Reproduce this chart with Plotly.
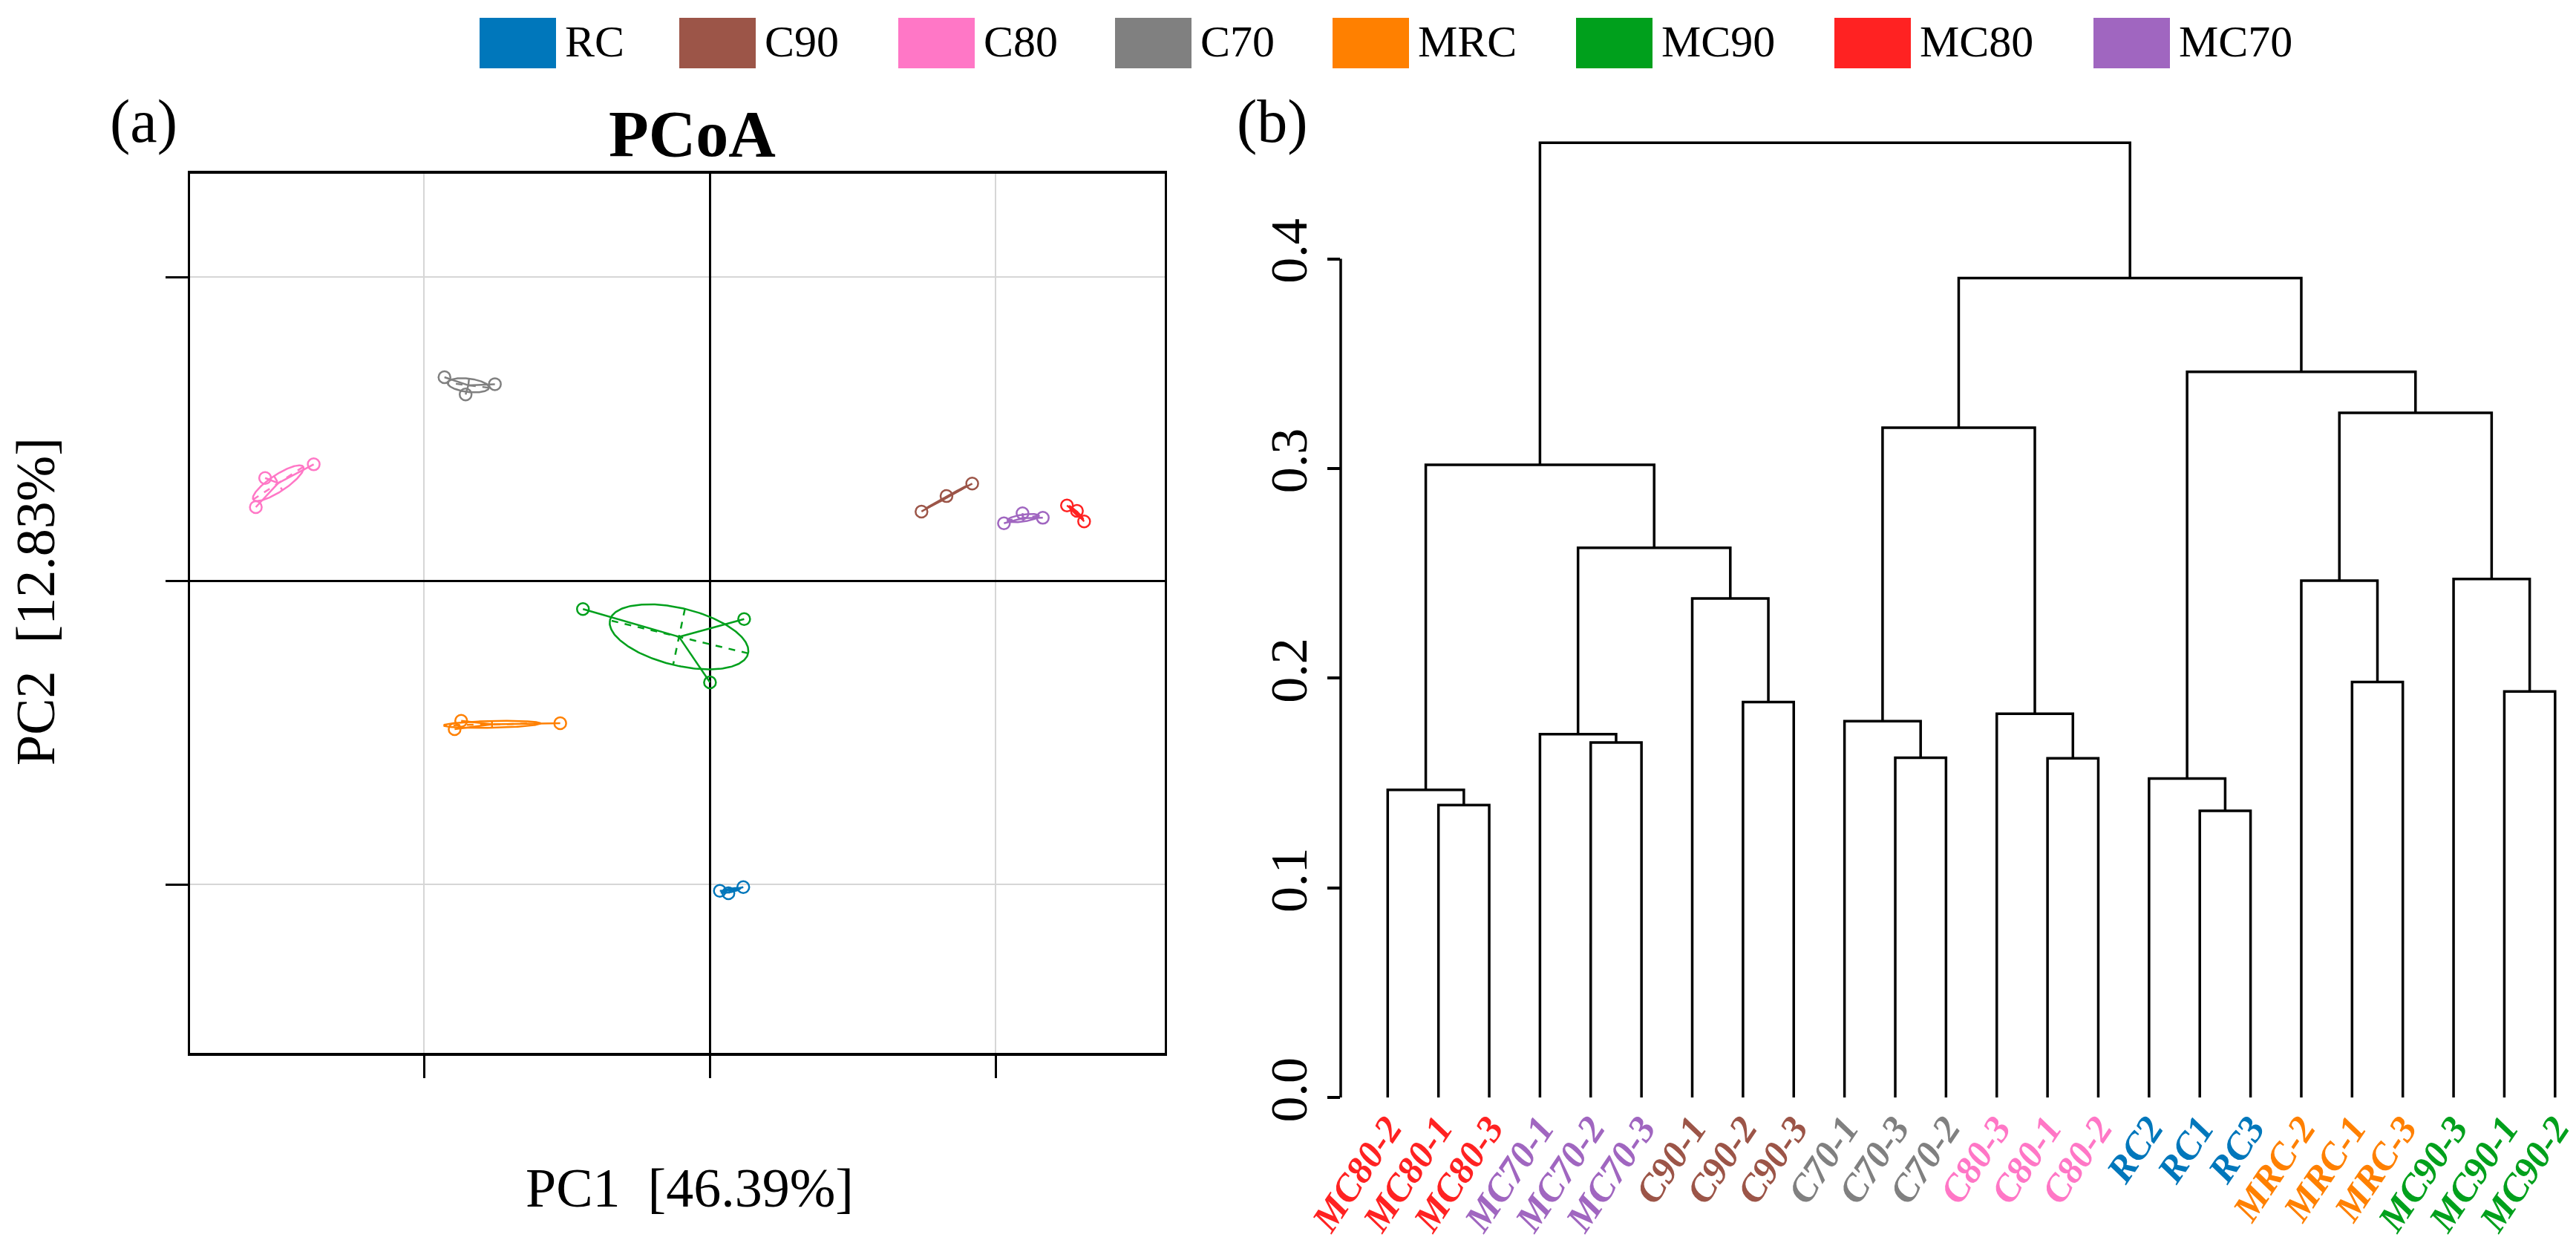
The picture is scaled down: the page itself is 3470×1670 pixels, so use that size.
import numpy as np
import plotly.graph_objects as go

W, H = 3470, 1670
FONT = "Liberation Serif"

# ---------------- data ----------------
groups = ["RC", "C90", "C80", "C70", "MRC", "MC90", "MC80", "MC70"]
group_colors = ["#0077BB", "#9C5548", "#FF77C6", "#808080",
                "#FF8000", "#00A01C", "#FF2222", "#A066C0"]

# PCoA scores (three replicates per group)
RC_pc1 = [0.0071, 0.0131, 0.0235]
RC_pc2 = [-0.2043, -0.2059, -0.2018]
C90_pc1 = [0.1482, 0.1657, 0.1837]
C90_pc2 = [0.0455, 0.0557, 0.0639]
C80_pc1 = [-0.3176, -0.3111, -0.2771]
C80_pc2 = [0.0484, 0.0676, 0.0766]
C70_pc1 = [-0.1856, -0.1708, -0.1503]
C70_pc2 = [0.1340, 0.1226, 0.1294]
MRC_pc1 = [-0.1739, -0.1785, -0.1046]
MRC_pc2 = [-0.0923, -0.0978, -0.0939]
MC90_pc1 = [-0.0887, 0.0241, 0.0002]
MC90_pc2 = [-0.0187, -0.0253, -0.0670]
MC80_pc1 = [0.2500, 0.2570, 0.2620]
MC80_pc2 = [0.0495, 0.0460, 0.0390]
MC70_pc1 = [0.2059, 0.2189, 0.2331]
MC70_pc2 = [0.0378, 0.0444, 0.0414]

pc1_tick_values = [-0.2, 0.0, 0.2]
pc2_tick_values = [-0.2, 0.0, 0.2]

# dendrogram (leaf order as drawn)
leaf_labels = ["MC80-2", "MC80-1", "MC80-3", "MC70-1", "MC70-2", "MC70-3",
               "C90-1", "C90-2", "C90-3", "C70-1", "C70-3", "C70-2",
               "C80-3", "C80-1", "C80-2", "RC2", "RC1", "RC3",
               "MRC-2", "MRC-1", "MRC-3", "MC90-3", "MC90-1", "MC90-2"]
leaf_groups = ["MC80", "MC80", "MC80", "MC70", "MC70", "MC70",
               "C90", "C90", "C90", "C70", "C70", "C70",
               "C80", "C80", "C80", "RC", "RC", "RC",
               "MRC", "MRC", "MRC", "MC90", "MC90", "MC90"]
# hclust-style merges: negative = leaf position (1-based), positive = earlier merge
merge_left = [-17, -2, -1, -16, -11, -14, -5, -4, -10, -13, -8, -23, -20,
              -7, -19, -22, 8, 3, 9, 15, 4, 19, 18]
merge_right = [-18, -3, 2, 1, -12, -15, -6, 7, 5, 6, -9, -24, -21,
               11, 13, 12, 14, 17, 10, 16, 20, 21, 22]
merge_height = [0.1368, 0.1395, 0.1468, 0.1522, 0.1621, 0.1618, 0.1693,
                0.1733, 0.1795, 0.1831, 0.1886, 0.1937, 0.1982, 0.2380,
                0.2465, 0.2473, 0.2622, 0.3018, 0.3195, 0.3266, 0.3461,
                0.3908, 0.4554]
height_ticks = [0.0, 0.1, 0.2, 0.3, 0.4]

pcoa = {
    "RC": (RC_pc1, RC_pc2), "C90": (C90_pc1, C90_pc2), "C80": (C80_pc1, C80_pc2),
    "C70": (C70_pc1, C70_pc2), "MRC": (MRC_pc1, MRC_pc2), "MC90": (MC90_pc1, MC90_pc2),
    "MC80": (MC80_pc1, MC80_pc2), "MC70": (MC70_pc1, MC70_pc2),
}
color_of = dict(zip(groups, group_colors))


def px_x(p):
    return p / W


def px_y(p):
    return 1 - p / H


fig = go.Figure()

# ---------------- (a) PCoA ----------------
for g in groups:
    x = np.array(pcoa[g][0])
    y = np.array(pcoa[g][1])
    col = color_of[g]
    cx, cy = x.mean(), y.mean()
    # spider lines
    sx, sy = [], []
    for xi, yi in zip(x, y):
        sx += [cx, xi, None]
        sy += [cy, yi, None]
    fig.add_trace(go.Scatter(x=sx, y=sy, mode="lines", line=dict(color=col, width=2.5),
                             xaxis="x", yaxis="y", showlegend=False, hoverinfo="skip"))
    # covariance ellipse (1 sd)
    C = np.cov(np.vstack([x, y]), bias=True)
    vals, vecs = np.linalg.eigh(C)
    vals = np.clip(vals, 0, None)
    a, b = np.sqrt(vals[1]), np.sqrt(vals[0])
    v1, v2 = vecs[:, 1], vecs[:, 0]
    t = np.linspace(0, 2 * np.pi, 240)
    ex = cx + a * np.cos(t) * v1[0] + b * np.sin(t) * v2[0]
    ey = cy + a * np.cos(t) * v1[1] + b * np.sin(t) * v2[1]
    fig.add_trace(go.Scatter(x=ex, y=ey, mode="lines", line=dict(color=col, width=2.5),
                             xaxis="x", yaxis="y", showlegend=False, hoverinfo="skip"))
    # ellipse axes (dashed)
    axx = [cx - a * v1[0], cx + a * v1[0], None, cx - b * v2[0], cx + b * v2[0]]
    axy = [cy - a * v1[1], cy + a * v1[1], None, cy - b * v2[1], cy + b * v2[1]]
    fig.add_trace(go.Scatter(x=axx, y=axy, mode="lines",
                             line=dict(color=col, width=2.5, dash="dash"),
                             xaxis="x", yaxis="y", showlegend=False, hoverinfo="skip"))
    # points
    fig.add_trace(go.Scatter(x=x, y=y, mode="markers",
                             marker=dict(symbol="circle-open", size=16, color=col,
                                         line=dict(color=col, width=2.5)),
                             xaxis="x", yaxis="y", showlegend=False, name=g))

# ---------------- (b) dendrogram ----------------
node_x, node_h = {}, {}
dx, dy = [], []


def pos(ref):
    if ref < 0:
        return float(-ref), 0.0
    return node_x[ref], node_h[ref]


for i, (l, r, h) in enumerate(zip(merge_left, merge_right, merge_height), start=1):
    xl, hl = pos(l)
    xr, hr = pos(r)
    dx += [xl, xl, xr, xr, None]
    dy += [hl, h, h, hr, None]
    node_x[i] = (xl + xr) / 2
    node_h[i] = h

fig.add_trace(go.Scatter(x=dx, y=dy, mode="lines", line=dict(color="black", width=3.5),
                         xaxis="x2", yaxis="y2", showlegend=False, hoverinfo="skip"))

leaf_pos = list(range(1, len(leaf_labels) + 1))
tick_text = [f"<b><i><span style='color:{color_of[g]}'>{lab}</span></i></b>"
             for lab, g in zip(leaf_labels, leaf_groups)]

# ---------------- layout ----------------
# PCoA panel geometry (pixels)
a_left, a_right, a_top, a_bottom = 248, 1561, 226, 1410
x0_px, y0_px, x_unit, y_unit = 948, 774, 1925.0, 2045.0
xr_a = [(a_left - x0_px) / x_unit, (a_right - x0_px) / x_unit]
yr_a = [(y0_px - a_bottom) / y_unit, (y0_px - a_top) / y_unit]

# dendrogram geometry (pixels)
b_left, b_top, b_zero = 1798, 150, 1470.2
leaf1_px, leaf_step = 1861.3, 68.37
h_unit = 2824.0
xr_b = [1 - (leaf1_px - b_left) / leaf_step, 1 + (W - leaf1_px) / leaf_step]
yr_b = [0.0, (b_zero - b_top) / h_unit]

fig.update_layout(
    width=W, height=H,
    margin=dict(l=0, r=0, t=0, b=0),
    paper_bgcolor="white", plot_bgcolor="white",
    font=dict(family=FONT, color="black"),
    showlegend=False,
    xaxis=dict(domain=[px_x(a_left), px_x(a_right)], range=xr_a, anchor="y",
               tickvals=pc1_tick_values, showticklabels=False,
               ticks="outside", ticklen=30, tickwidth=2.5, tickcolor="black",
               showgrid=True, gridcolor="#D6D6D6", gridwidth=2,
               zeroline=True, zerolinecolor="black", zerolinewidth=2.5,
               showline=True, linecolor="black", linewidth=3.5, mirror=True,
               automargin=False),
    yaxis=dict(domain=[px_y(a_bottom), px_y(a_top)], range=yr_a, anchor="x",
               tickvals=pc2_tick_values, showticklabels=False,
               ticks="outside", ticklen=30, tickwidth=2.5, tickcolor="black",
               showgrid=True, gridcolor="#D6D6D6", gridwidth=2,
               zeroline=True, zerolinecolor="black", zerolinewidth=2.5,
               showline=True, linecolor="black", linewidth=3, mirror=True,
               automargin=False),
    xaxis2=dict(domain=[px_x(b_left), 1.0], range=xr_b, anchor="y2",
                tickvals=leaf_pos, ticktext=tick_text, tickangle=-56,
                tickfont=dict(family=FONT, size=51),
                ticks="", showgrid=False, zeroline=False, showline=False,
                automargin=False),
    yaxis2=dict(domain=[px_y(b_zero), px_y(b_top)], range=yr_b, anchor="x2",
                tickvals=height_ticks, tickformat=".1f", tickangle=-90,
                tickfont=dict(family=FONT, size=70),
                ticks="outside", ticklen=17, tickwidth=3.5, tickcolor="black",
                showgrid=False, zeroline=False, showline=False,
                automargin=False),
)

# y axis line of the dendrogram, spanning only the tick range
fig.add_shape(type="line", xref="x2 domain", yref="y2",
              x0=0, x1=0, y0=height_ticks[0], y1=height_ticks[-1],
              line=dict(color="black", width=3.5))

# ---------------- legend (drawn manually to match large swatches) ----------------
legend_box_left = [638, 907, 1202, 1494, 1787, 2115, 2463, 2812]
box_w, box_top, box_bot = 103, 16, 84
for g, col, bx in zip(groups, group_colors, legend_box_left):
    fig.add_shape(type="rect", xref="paper", yref="paper",
                  x0=px_x(bx), x1=px_x(bx + box_w), y0=px_y(box_bot), y1=px_y(box_top),
                  fillcolor=col, line=dict(width=0))
    fig.add_annotation(xref="paper", yref="paper", x=px_x(bx + box_w + 10), y=px_y(48),
                       xanchor="left", yanchor="middle", showarrow=False, text=g,
                       font=dict(family=FONT, size=60, color="black"))

# ---------------- titles / labels ----------------
fig.add_annotation(xref="paper", yref="paper", x=px_x(924), y=px_y(172),
                   xanchor="center", yanchor="middle", showarrow=False,
                   text="<b>PCoA</b>", font=dict(family=FONT, size=88))
fig.add_annotation(xref="paper", yref="paper", x=px_x(921), y=px_y(1592),
                   xanchor="center", yanchor="middle", showarrow=False,
                   text="PC1&nbsp;&nbsp;[46.39%]", font=dict(family=FONT, size=74))
fig.add_annotation(xref="paper", yref="paper", x=px_x(40), y=px_y(802),
                   xanchor="center", yanchor="middle", showarrow=False, textangle=-90,
                   text="PC2&nbsp;&nbsp;[12.83%]", font=dict(family=FONT, size=74))
fig.add_annotation(xref="paper", yref="paper", x=px_x(185), y=px_y(155),
                   xanchor="center", yanchor="middle", showarrow=False,
                   text="(a)", font=dict(family=FONT, size=82))
fig.add_annotation(xref="paper", yref="paper", x=px_x(1706), y=px_y(155),
                   xanchor="center", yanchor="middle", showarrow=False,
                   text="(b)", font=dict(family=FONT, size=82))

fig.write_html("out.html")
